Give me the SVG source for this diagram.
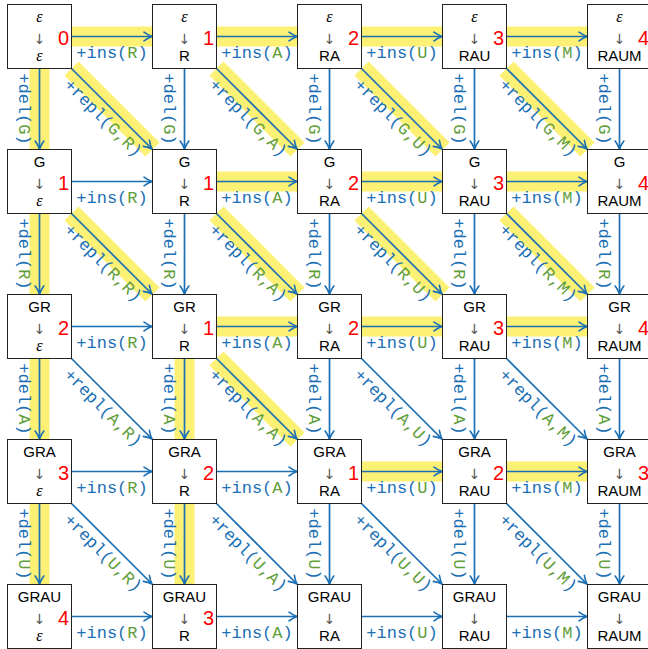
<svg xmlns="http://www.w3.org/2000/svg" width="648" height="649" viewBox="0 0 648 649">
<style>
.hl{stroke:#fcf075;stroke-width:20;stroke-linecap:butt;fill:none}
.e{stroke:#1a6fb5;stroke-width:1.7;fill:none;marker-end:url(#ah)}
.lbl{font-family:"Liberation Mono",monospace;font-size:17px;fill:#1a6fb5;text-anchor:middle}
.g{fill:#5f9e3a}
.box{fill:#fff;stroke:#222;stroke-width:1}
.nt{font-family:"Liberation Sans",Arial,sans-serif;font-size:15px;fill:#000;text-anchor:middle}
.eps{font-family:"Liberation Serif",serif;font-style:italic;font-size:16px;fill:#000;text-anchor:middle}
.ar{font-family:"DejaVu Sans",sans-serif;font-size:14px;fill:#555;text-anchor:middle}
.num{font-family:"Liberation Sans",Arial,sans-serif;font-size:20px;fill:#f00;text-anchor:end}
</style>
<defs>
<marker id="ah" markerUnits="userSpaceOnUse" viewBox="-10 -6 12 12" refX="0" refY="0" markerWidth="12" markerHeight="12" orient="auto">
<path d="M-8,-4.3 C-5.5,-2.5 -2,-0.7 0,0 C-2,0.7 -5.5,2.5 -8,4.3" stroke="#1a6fb5" stroke-width="1.6" fill="none" stroke-linecap="round"/>
</marker>
</defs>
<g id="highlights">
<line class="hl" x1="71.5" y1="36.5" x2="152.5" y2="36.5"/>
<line class="hl" x1="216.5" y1="36.5" x2="297.5" y2="36.5"/>
<line class="hl" x1="361.5" y1="36.5" x2="442.5" y2="36.5"/>
<line class="hl" x1="506.5" y1="36.5" x2="587.5" y2="36.5"/>
<line class="hl" x1="216.5" y1="181.5" x2="297.5" y2="181.5"/>
<line class="hl" x1="361.5" y1="181.5" x2="442.5" y2="181.5"/>
<line class="hl" x1="506.5" y1="181.5" x2="587.5" y2="181.5"/>
<line class="hl" x1="216.5" y1="326.5" x2="297.5" y2="326.5"/>
<line class="hl" x1="361.5" y1="326.5" x2="442.5" y2="326.5"/>
<line class="hl" x1="506.5" y1="326.5" x2="587.5" y2="326.5"/>
<line class="hl" x1="361.5" y1="471.5" x2="442.5" y2="471.5"/>
<line class="hl" x1="506.5" y1="471.5" x2="587.5" y2="471.5"/>
<line class="hl" x1="39.5" y1="68.5" x2="39.5" y2="149.5"/>
<line class="hl" x1="39.5" y1="213.5" x2="39.5" y2="294.5"/>
<line class="hl" x1="39.5" y1="358.5" x2="39.5" y2="439.5"/>
<line class="hl" x1="39.5" y1="503.5" x2="39.5" y2="584.5"/>
<line class="hl" x1="184.5" y1="358.5" x2="184.5" y2="439.5"/>
<line class="hl" x1="184.5" y1="503.5" x2="184.5" y2="584.5"/>
<line class="hl" x1="71.5" y1="68.5" x2="152.5" y2="149.5"/>
<line class="hl" x1="216.5" y1="68.5" x2="297.5" y2="149.5"/>
<line class="hl" x1="361.5" y1="68.5" x2="442.5" y2="149.5"/>
<line class="hl" x1="506.5" y1="68.5" x2="587.5" y2="149.5"/>
<line class="hl" x1="71.5" y1="213.5" x2="152.5" y2="294.5"/>
<line class="hl" x1="216.5" y1="213.5" x2="297.5" y2="294.5"/>
<line class="hl" x1="361.5" y1="213.5" x2="442.5" y2="294.5"/>
<line class="hl" x1="506.5" y1="213.5" x2="587.5" y2="294.5"/>
<line class="hl" x1="216.5" y1="358.5" x2="297.5" y2="439.5"/>
</g>
<g id="connectors">
<!-- horizontal -->
<line class="e" x1="71.5" y1="36.5" x2="152" y2="36.5"/>
<line class="e" x1="216.5" y1="36.5" x2="297" y2="36.5"/>
<line class="e" x1="361.5" y1="36.5" x2="442" y2="36.5"/>
<line class="e" x1="506.5" y1="36.5" x2="587" y2="36.5"/>
<line class="e" x1="71.5" y1="181.5" x2="152" y2="181.5"/>
<line class="e" x1="216.5" y1="181.5" x2="297" y2="181.5"/>
<line class="e" x1="361.5" y1="181.5" x2="442" y2="181.5"/>
<line class="e" x1="506.5" y1="181.5" x2="587" y2="181.5"/>
<line class="e" x1="71.5" y1="326.5" x2="152" y2="326.5"/>
<line class="e" x1="216.5" y1="326.5" x2="297" y2="326.5"/>
<line class="e" x1="361.5" y1="326.5" x2="442" y2="326.5"/>
<line class="e" x1="506.5" y1="326.5" x2="587" y2="326.5"/>
<line class="e" x1="71.5" y1="471.5" x2="152" y2="471.5"/>
<line class="e" x1="216.5" y1="471.5" x2="297" y2="471.5"/>
<line class="e" x1="361.5" y1="471.5" x2="442" y2="471.5"/>
<line class="e" x1="506.5" y1="471.5" x2="587" y2="471.5"/>
<line class="e" x1="71.5" y1="616.5" x2="152" y2="616.5"/>
<line class="e" x1="216.5" y1="616.5" x2="297" y2="616.5"/>
<line class="e" x1="361.5" y1="616.5" x2="442" y2="616.5"/>
<line class="e" x1="506.5" y1="616.5" x2="587" y2="616.5"/>
<!-- vertical -->
<line class="e" x1="39.5" y1="68.5" x2="39.5" y2="149"/>
<line class="e" x1="184.5" y1="68.5" x2="184.5" y2="149"/>
<line class="e" x1="329.5" y1="68.5" x2="329.5" y2="149"/>
<line class="e" x1="474.5" y1="68.5" x2="474.5" y2="149"/>
<line class="e" x1="619.5" y1="68.5" x2="619.5" y2="149"/>
<line class="e" x1="39.5" y1="213.5" x2="39.5" y2="294"/>
<line class="e" x1="184.5" y1="213.5" x2="184.5" y2="294"/>
<line class="e" x1="329.5" y1="213.5" x2="329.5" y2="294"/>
<line class="e" x1="474.5" y1="213.5" x2="474.5" y2="294"/>
<line class="e" x1="619.5" y1="213.5" x2="619.5" y2="294"/>
<line class="e" x1="39.5" y1="358.5" x2="39.5" y2="439"/>
<line class="e" x1="184.5" y1="358.5" x2="184.5" y2="439"/>
<line class="e" x1="329.5" y1="358.5" x2="329.5" y2="439"/>
<line class="e" x1="474.5" y1="358.5" x2="474.5" y2="439"/>
<line class="e" x1="619.5" y1="358.5" x2="619.5" y2="439"/>
<line class="e" x1="39.5" y1="503.5" x2="39.5" y2="584"/>
<line class="e" x1="184.5" y1="503.5" x2="184.5" y2="584"/>
<line class="e" x1="329.5" y1="503.5" x2="329.5" y2="584"/>
<line class="e" x1="474.5" y1="503.5" x2="474.5" y2="584"/>
<line class="e" x1="619.5" y1="503.5" x2="619.5" y2="584"/>
<!-- diagonal -->
<line class="e" x1="71.5" y1="68.5" x2="152" y2="149"/>
<line class="e" x1="216.5" y1="68.5" x2="297" y2="149"/>
<line class="e" x1="361.5" y1="68.5" x2="442" y2="149"/>
<line class="e" x1="506.5" y1="68.5" x2="587" y2="149"/>
<line class="e" x1="71.5" y1="213.5" x2="152" y2="294"/>
<line class="e" x1="216.5" y1="213.5" x2="297" y2="294"/>
<line class="e" x1="361.5" y1="213.5" x2="442" y2="294"/>
<line class="e" x1="506.5" y1="213.5" x2="587" y2="294"/>
<line class="e" x1="71.5" y1="358.5" x2="152" y2="439"/>
<line class="e" x1="216.5" y1="358.5" x2="297" y2="439"/>
<line class="e" x1="361.5" y1="358.5" x2="442" y2="439"/>
<line class="e" x1="506.5" y1="358.5" x2="587" y2="439"/>
<line class="e" x1="71.5" y1="503.5" x2="152" y2="584"/>
<line class="e" x1="216.5" y1="503.5" x2="297" y2="584"/>
<line class="e" x1="361.5" y1="503.5" x2="442" y2="584"/>
<line class="e" x1="506.5" y1="503.5" x2="587" y2="584"/>
<!-- horizontal labels -->
<text class="lbl" x="112" y="57.5">+ins(<tspan class="g">R</tspan>)</text>
<text class="lbl" x="257" y="57.5">+ins(<tspan class="g">A</tspan>)</text>
<text class="lbl" x="402" y="57.5">+ins(<tspan class="g">U</tspan>)</text>
<text class="lbl" x="547" y="57.5">+ins(<tspan class="g">M</tspan>)</text>
<text class="lbl" x="112" y="202.5">+ins(<tspan class="g">R</tspan>)</text>
<text class="lbl" x="257" y="202.5">+ins(<tspan class="g">A</tspan>)</text>
<text class="lbl" x="402" y="202.5">+ins(<tspan class="g">U</tspan>)</text>
<text class="lbl" x="547" y="202.5">+ins(<tspan class="g">M</tspan>)</text>
<text class="lbl" x="112" y="347.5">+ins(<tspan class="g">R</tspan>)</text>
<text class="lbl" x="257" y="347.5">+ins(<tspan class="g">A</tspan>)</text>
<text class="lbl" x="402" y="347.5">+ins(<tspan class="g">U</tspan>)</text>
<text class="lbl" x="547" y="347.5">+ins(<tspan class="g">M</tspan>)</text>
<text class="lbl" x="112" y="492.5">+ins(<tspan class="g">R</tspan>)</text>
<text class="lbl" x="257" y="492.5">+ins(<tspan class="g">A</tspan>)</text>
<text class="lbl" x="402" y="492.5">+ins(<tspan class="g">U</tspan>)</text>
<text class="lbl" x="547" y="492.5">+ins(<tspan class="g">M</tspan>)</text>
<text class="lbl" x="112" y="637.5">+ins(<tspan class="g">R</tspan>)</text>
<text class="lbl" x="257" y="637.5">+ins(<tspan class="g">A</tspan>)</text>
<text class="lbl" x="402" y="637.5">+ins(<tspan class="g">U</tspan>)</text>
<text class="lbl" x="547" y="637.5">+ins(<tspan class="g">M</tspan>)</text>
<!-- vertical labels -->
<text class="lbl" transform="translate(18.5,109) rotate(90)">+del(<tspan class="g">G</tspan>)</text>
<text class="lbl" transform="translate(163.5,109) rotate(90)">+del(<tspan class="g">G</tspan>)</text>
<text class="lbl" transform="translate(308.5,109) rotate(90)">+del(<tspan class="g">G</tspan>)</text>
<text class="lbl" transform="translate(453.5,109) rotate(90)">+del(<tspan class="g">G</tspan>)</text>
<text class="lbl" transform="translate(598.5,109) rotate(90)">+del(<tspan class="g">G</tspan>)</text>
<text class="lbl" transform="translate(18.5,254) rotate(90)">+del(<tspan class="g">R</tspan>)</text>
<text class="lbl" transform="translate(163.5,254) rotate(90)">+del(<tspan class="g">R</tspan>)</text>
<text class="lbl" transform="translate(308.5,254) rotate(90)">+del(<tspan class="g">R</tspan>)</text>
<text class="lbl" transform="translate(453.5,254) rotate(90)">+del(<tspan class="g">R</tspan>)</text>
<text class="lbl" transform="translate(598.5,254) rotate(90)">+del(<tspan class="g">R</tspan>)</text>
<text class="lbl" transform="translate(18.5,399) rotate(90)">+del(<tspan class="g">A</tspan>)</text>
<text class="lbl" transform="translate(163.5,399) rotate(90)">+del(<tspan class="g">A</tspan>)</text>
<text class="lbl" transform="translate(308.5,399) rotate(90)">+del(<tspan class="g">A</tspan>)</text>
<text class="lbl" transform="translate(453.5,399) rotate(90)">+del(<tspan class="g">A</tspan>)</text>
<text class="lbl" transform="translate(598.5,399) rotate(90)">+del(<tspan class="g">A</tspan>)</text>
<text class="lbl" transform="translate(18.5,544) rotate(90)">+del(<tspan class="g">U</tspan>)</text>
<text class="lbl" transform="translate(163.5,544) rotate(90)">+del(<tspan class="g">U</tspan>)</text>
<text class="lbl" transform="translate(308.5,544) rotate(90)">+del(<tspan class="g">U</tspan>)</text>
<text class="lbl" transform="translate(453.5,544) rotate(90)">+del(<tspan class="g">U</tspan>)</text>
<text class="lbl" transform="translate(598.5,544) rotate(90)">+del(<tspan class="g">U</tspan>)</text>
<!-- diagonal labels -->
<text class="lbl" transform="translate(99.3,121.7) rotate(45)">+repl(<tspan class="g">G,R</tspan>)</text>
<text class="lbl" transform="translate(244.3,121.7) rotate(45)">+repl(<tspan class="g">G,A</tspan>)</text>
<text class="lbl" transform="translate(389.3,121.7) rotate(45)">+repl(<tspan class="g">G,U</tspan>)</text>
<text class="lbl" transform="translate(534.3,121.7) rotate(45)">+repl(<tspan class="g">G,M</tspan>)</text>
<text class="lbl" transform="translate(99.3,266.7) rotate(45)">+repl(<tspan class="g">R,R</tspan>)</text>
<text class="lbl" transform="translate(244.3,266.7) rotate(45)">+repl(<tspan class="g">R,A</tspan>)</text>
<text class="lbl" transform="translate(389.3,266.7) rotate(45)">+repl(<tspan class="g">R,U</tspan>)</text>
<text class="lbl" transform="translate(534.3,266.7) rotate(45)">+repl(<tspan class="g">R,M</tspan>)</text>
<text class="lbl" transform="translate(99.3,411.7) rotate(45)">+repl(<tspan class="g">A,R</tspan>)</text>
<text class="lbl" transform="translate(244.3,411.7) rotate(45)">+repl(<tspan class="g">A,A</tspan>)</text>
<text class="lbl" transform="translate(389.3,411.7) rotate(45)">+repl(<tspan class="g">A,U</tspan>)</text>
<text class="lbl" transform="translate(534.3,411.7) rotate(45)">+repl(<tspan class="g">A,M</tspan>)</text>
<text class="lbl" transform="translate(99.3,556.7) rotate(45)">+repl(<tspan class="g">U,R</tspan>)</text>
<text class="lbl" transform="translate(244.3,556.7) rotate(45)">+repl(<tspan class="g">U,A</tspan>)</text>
<text class="lbl" transform="translate(389.3,556.7) rotate(45)">+repl(<tspan class="g">U,U</tspan>)</text>
<text class="lbl" transform="translate(534.3,556.7) rotate(45)">+repl(<tspan class="g">U,M</tspan>)</text>
</g>
<!-- row 0 -->
<g id="n00"><rect class="box" x="7.5" y="4.5" width="64" height="64"/><text class="eps" x="39.5" y="22">ε</text><text class="ar" x="39.5" y="43.5">↓</text><text class="eps" x="39.5" y="61">ε</text><text class="num" x="69" y="45">0</text></g>
<g id="n01"><rect class="box" x="152.5" y="4.5" width="64" height="64"/><text class="eps" x="184.5" y="22">ε</text><text class="ar" x="184.5" y="43.5">↓</text><text class="nt" x="184.5" y="61">R</text><text class="num" x="214" y="45">1</text></g>
<g id="n02"><rect class="box" x="297.5" y="4.5" width="64" height="64"/><text class="eps" x="329.5" y="22">ε</text><text class="ar" x="329.5" y="43.5">↓</text><text class="nt" x="329.5" y="61">RA</text><text class="num" x="359" y="45">2</text></g>
<g id="n03"><rect class="box" x="442.5" y="4.5" width="64" height="64"/><text class="eps" x="474.5" y="22">ε</text><text class="ar" x="474.5" y="43.5">↓</text><text class="nt" x="474.5" y="61">RAU</text><text class="num" x="504" y="45">3</text></g>
<g id="n04"><rect class="box" x="587.5" y="4.5" width="64" height="64"/><text class="eps" x="619.5" y="22">ε</text><text class="ar" x="619.5" y="43.5">↓</text><text class="nt" x="619.5" y="61">RAUM</text><text class="num" x="649" y="45">4</text></g>
<!-- row 1 -->
<g id="n10"><rect class="box" x="7.5" y="149.5" width="64" height="64"/><text class="nt" x="39.5" y="167">G</text><text class="ar" x="39.5" y="188.5">↓</text><text class="eps" x="39.5" y="206">ε</text><text class="num" x="69" y="190">1</text></g>
<g id="n11"><rect class="box" x="152.5" y="149.5" width="64" height="64"/><text class="nt" x="184.5" y="167">G</text><text class="ar" x="184.5" y="188.5">↓</text><text class="nt" x="184.5" y="206">R</text><text class="num" x="214" y="190">1</text></g>
<g id="n12"><rect class="box" x="297.5" y="149.5" width="64" height="64"/><text class="nt" x="329.5" y="167">G</text><text class="ar" x="329.5" y="188.5">↓</text><text class="nt" x="329.5" y="206">RA</text><text class="num" x="359" y="190">2</text></g>
<g id="n13"><rect class="box" x="442.5" y="149.5" width="64" height="64"/><text class="nt" x="474.5" y="167">G</text><text class="ar" x="474.5" y="188.5">↓</text><text class="nt" x="474.5" y="206">RAU</text><text class="num" x="504" y="190">3</text></g>
<g id="n14"><rect class="box" x="587.5" y="149.5" width="64" height="64"/><text class="nt" x="619.5" y="167">G</text><text class="ar" x="619.5" y="188.5">↓</text><text class="nt" x="619.5" y="206">RAUM</text><text class="num" x="649" y="190">4</text></g>
<!-- row 2 -->
<g id="n20"><rect class="box" x="7.5" y="294.5" width="64" height="64"/><text class="nt" x="39.5" y="312">GR</text><text class="ar" x="39.5" y="333.5">↓</text><text class="eps" x="39.5" y="351">ε</text><text class="num" x="69" y="335">2</text></g>
<g id="n21"><rect class="box" x="152.5" y="294.5" width="64" height="64"/><text class="nt" x="184.5" y="312">GR</text><text class="ar" x="184.5" y="333.5">↓</text><text class="nt" x="184.5" y="351">R</text><text class="num" x="214" y="335">1</text></g>
<g id="n22"><rect class="box" x="297.5" y="294.5" width="64" height="64"/><text class="nt" x="329.5" y="312">GR</text><text class="ar" x="329.5" y="333.5">↓</text><text class="nt" x="329.5" y="351">RA</text><text class="num" x="359" y="335">2</text></g>
<g id="n23"><rect class="box" x="442.5" y="294.5" width="64" height="64"/><text class="nt" x="474.5" y="312">GR</text><text class="ar" x="474.5" y="333.5">↓</text><text class="nt" x="474.5" y="351">RAU</text><text class="num" x="504" y="335">3</text></g>
<g id="n24"><rect class="box" x="587.5" y="294.5" width="64" height="64"/><text class="nt" x="619.5" y="312">GR</text><text class="ar" x="619.5" y="333.5">↓</text><text class="nt" x="619.5" y="351">RAUM</text><text class="num" x="649" y="335">4</text></g>
<!-- row 3 -->
<g id="n30"><rect class="box" x="7.5" y="439.5" width="64" height="64"/><text class="nt" x="39.5" y="457">GRA</text><text class="ar" x="39.5" y="478.5">↓</text><text class="eps" x="39.5" y="496">ε</text><text class="num" x="69" y="480">3</text></g>
<g id="n31"><rect class="box" x="152.5" y="439.5" width="64" height="64"/><text class="nt" x="184.5" y="457">GRA</text><text class="ar" x="184.5" y="478.5">↓</text><text class="nt" x="184.5" y="496">R</text><text class="num" x="214" y="480">2</text></g>
<g id="n32"><rect class="box" x="297.5" y="439.5" width="64" height="64"/><text class="nt" x="329.5" y="457">GRA</text><text class="ar" x="329.5" y="478.5">↓</text><text class="nt" x="329.5" y="496">RA</text><text class="num" x="359" y="480">1</text></g>
<g id="n33"><rect class="box" x="442.5" y="439.5" width="64" height="64"/><text class="nt" x="474.5" y="457">GRA</text><text class="ar" x="474.5" y="478.5">↓</text><text class="nt" x="474.5" y="496">RAU</text><text class="num" x="504" y="480">2</text></g>
<g id="n34"><rect class="box" x="587.5" y="439.5" width="64" height="64"/><text class="nt" x="619.5" y="457">GRA</text><text class="ar" x="619.5" y="478.5">↓</text><text class="nt" x="619.5" y="496">RAUM</text><text class="num" x="649" y="480">3</text></g>
<!-- row 4 -->
<g id="n40"><rect class="box" x="7.5" y="584.5" width="64" height="64"/><text class="nt" x="39.5" y="602">GRAU</text><text class="ar" x="39.5" y="623.5">↓</text><text class="eps" x="39.5" y="641">ε</text><text class="num" x="69" y="625">4</text></g>
<g id="n41"><rect class="box" x="152.5" y="584.5" width="64" height="64"/><text class="nt" x="184.5" y="602">GRAU</text><text class="ar" x="184.5" y="623.5">↓</text><text class="nt" x="184.5" y="641">R</text><text class="num" x="214" y="625">3</text></g>
<g id="n42"><rect class="box" x="297.5" y="584.5" width="64" height="64"/><text class="nt" x="329.5" y="602">GRAU</text><text class="ar" x="329.5" y="623.5">↓</text><text class="nt" x="329.5" y="641">RA</text></g>
<g id="n43"><rect class="box" x="442.5" y="584.5" width="64" height="64"/><text class="nt" x="474.5" y="602">GRAU</text><text class="ar" x="474.5" y="623.5">↓</text><text class="nt" x="474.5" y="641">RAU</text></g>
<g id="n44"><rect class="box" x="587.5" y="584.5" width="64" height="64"/><text class="nt" x="619.5" y="602">GRAU</text><text class="ar" x="619.5" y="623.5">↓</text><text class="nt" x="619.5" y="641">RAUM</text></g>
</svg>
